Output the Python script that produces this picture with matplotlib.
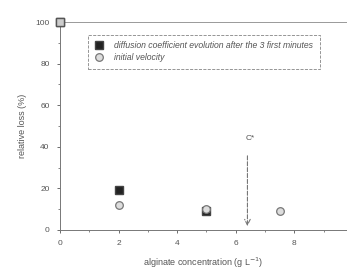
import matplotlib
matplotlib.use("Agg")
import matplotlib.pyplot as plt

plt.rcParams['font.family'] = ['Liberation Sans', 'DejaVu Sans']

conc_diff = [0, 2, 5]
loss_diff = [100, 19, 9]
conc_vel = [0, 2, 5, 7.5]
loss_vel = [100, 12, 10, 9]
c_star = 6.4

fig = plt.figure(figsize=(3.47, 2.69), dpi=100)
ax = fig.add_axes([0.173, 0.145, 0.827, 0.773])
tc = '#555555'
ax.plot(conc_diff, loss_diff, 's', color='#222222', ms=5.5, mec='#444444', clip_on=False, zorder=3,
        label='diffusion coefficient evolution after the 3 first minutes')
ax.plot(conc_vel, loss_vel, 'o', mfc='#dddddd', mec='#777777', ms=5.5, mew=0.9, clip_on=False, zorder=4,
        label='initial velocity')
ax.plot([0], [100], 's', mfc='#cccccc', mec='#555555', ms=5.5, clip_on=False, zorder=5)

ax.annotate('', xy=(c_star, 0.5), xytext=(c_star, 37),
            arrowprops=dict(arrowstyle='->', color='#777777', lw=0.8, ls='--', mutation_scale=10))
ax.text(c_star + 0.1, 44, 'C*', fontsize=6, color=tc, ha='center', va='center')

ax.set_xlim(0, 9.8)
ax.set_ylim(0, 100)
ax.set_xticks([0, 2, 4, 6, 8])
ax.set_yticks([0, 20, 40, 60, 80, 100])
ax.set_xticks([1, 3, 5, 7, 9], minor=True)
ax.set_yticks([10, 30, 50, 70, 90], minor=True)
ax.tick_params(labelsize=6, colors=tc, length=2.5, width=0.6, pad=5)
ax.tick_params(which='minor', length=1.5, width=0.5, colors=tc)
for s in ax.spines.values():
    s.set_color('#777777')
    s.set_linewidth(0.7)
ax.spines['right'].set_visible(False)
ax.spines['top'].set_linestyle((0, (3, 1)))
ax.spines['top'].set_color('#999999')
ax.set_xlabel('alginate concentration (g L$^{-1}$)', fontsize=6.5, color=tc, labelpad=6)
ax.set_ylabel('relative loss (%)', fontsize=6.5, color=tc, labelpad=6)

leg = ax.legend(loc='upper left', bbox_to_anchor=(0.098, 0.94), fontsize=6.2, frameon=True,
                fancybox=False, edgecolor='#666666', borderpad=0.8, handletextpad=1.2,
                labelspacing=0.3, handlelength=1.0, borderaxespad=0)
leg.get_frame().set_linewidth(0.6)
leg.get_frame().set_linestyle('--')
for t in leg.get_texts():
    t.set_style('italic')
    t.set_color(tc)

fig.savefig('out.png', dpi=100)
